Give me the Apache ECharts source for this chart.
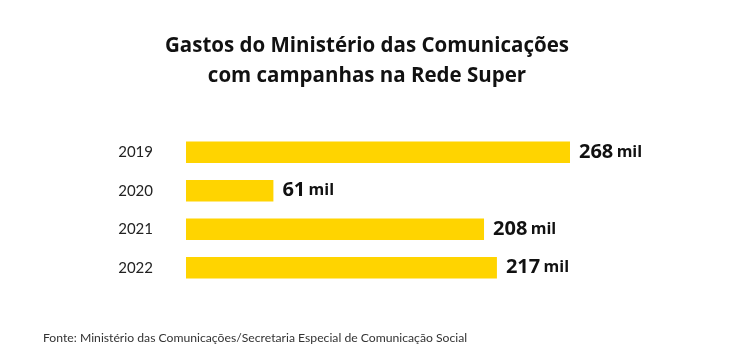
<!DOCTYPE html>
<html><head><meta charset="utf-8">
<script src="https://cdn.jsdelivr.net/npm/echarts@6/dist/echarts.min.js"></script>
<style>html,body{margin:0;padding:0;background:#fff}#c{width:734px;height:355px}</style>
</head><body><div id="c"></div>
<script>
const categories = ['2019', '2020', '2021', '2022'];
const values = [268, 61, 208, 217];
const unit = 'mil';
const titleText = 'Gastos do Ministério das Comunicações\ncom campanhas na Rede Super';
const sourceText = 'Fonte: Ministério das Comunicações/Secretaria Especial de Comunicação Social';

const chart = echarts.init(document.getElementById('c'));
chart.setOption({
  animation: false,
  backgroundColor: '#fff',
  title: [{
    text: titleText, left: 'center', top: 26,
    textStyle: { fontFamily: 'Open Sans', fontWeight: 'bold', fontSize: 20.5, lineHeight: 30, color: '#111' }
  }, {
    text: sourceText, left: 38, top: 327,
    textStyle: { fontFamily: 'Lato', fontWeight: 'normal', fontSize: 12.2, color: '#333' }
  }],
  grid: { left: 186, right: 164, top: 133, height: 154 },
  xAxis: { type: 'value', min: 0, max: 268, show: false },
  yAxis: {
    type: 'category', data: categories, inverse: true,
    axisLine: { show: false }, axisTick: { show: false }, splitLine: { show: false },
    axisLabel: { margin: 33, fontFamily: 'Lato', fontSize: 15, color: '#222', padding: [6, 0, 0, 0] }
  },
  series: [{
    type: 'bar', data: values, barWidth: 21.5,
    itemStyle: { color: '#FFD400' },
    label: {
      show: true, position: 'right', distance: 9,
      formatter: p => '{n|' + p.value + '} {u|' + unit + '}',
      rich: {
        n: { fontFamily: 'Open Sans', fontWeight: 'bold', fontSize: 20, color: '#111' },
        u: { fontFamily: 'Open Sans', fontWeight: 'bold', fontSize: 16, color: '#111' }
      }
    }
  }]
});
</script></body></html>
